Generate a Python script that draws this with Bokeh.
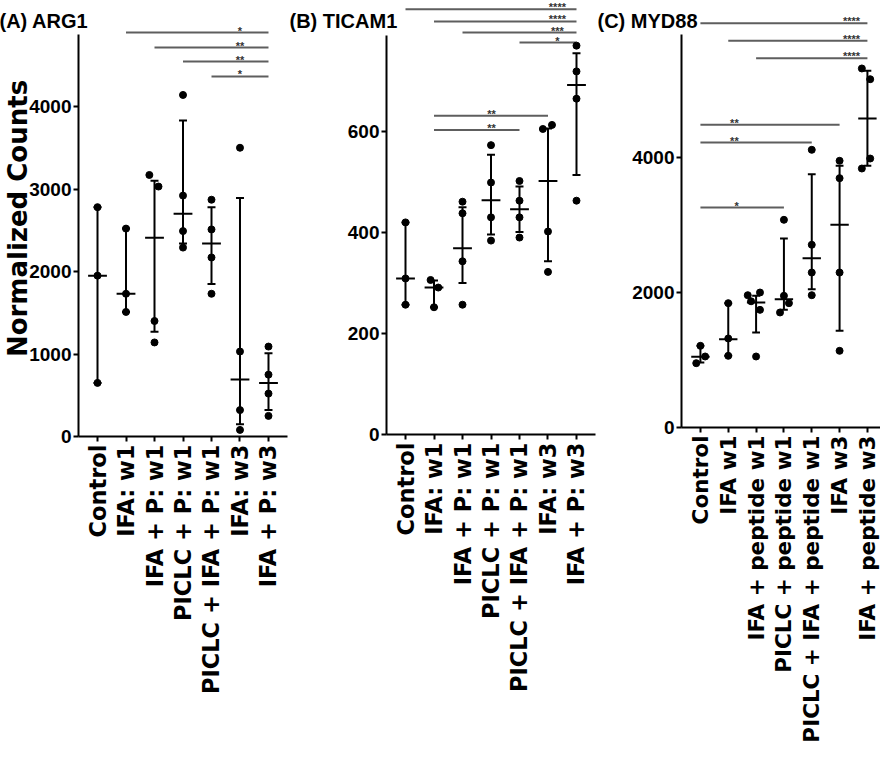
import math
from bokeh.plotting import figure
from bokeh.models import Range1d, FixedTicker, Title
from bokeh.layouts import row
from bokeh.core.properties import value
from bokeh.embed import file_html
from bokeh.resources import INLINE

SANS = "Liberation Sans"
WIDE = "DejaVu Sans"

# ---------------- Panel A : ARG1 ----------------
a_title = "(A) ARG1"
a_categories = ["Control", "IFA: w1", "IFA + P: w1", "PICLC + P: w1",
                "PICLC + IFA + P: w1", "IFA: w3", "IFA + P: w3"]
a_points = [[2780, 1950, 650], [2520, 1730, 1510], [3170, 3030, 1400, 1140],
            [4140, 2920, 2490, 2290], [2870, 2510, 2170, 1730],
            [3500, 1030, 320, 80], [1090, 750, 520, 250]]
a_jitter = [[0, 0, 0], [0, 0, 0], [-0.18, 0.14, 0, 0], [0, 0, 0, 0],
            [0, 0, 0, 0], [0, 0, 0, 0], [0, 0, 0, 0]]
a_mean = [1950, 1730, 2410, 2700, 2340, 690, 650]
a_err_lo = [650, 1510, 1270, 2340, 1850, 150, 320]
a_err_hi = [2780, 2520, 3100, 3830, 2780, 2890, 1010]
a_yticks = [0, 1000, 2000, 3000, 4000]
a_sig_start = [1, 2, 3, 4]
a_sig_end = [6, 6, 6, 6]
a_sig_y = [4897, 4715, 4545, 4364]
a_sig_text = ["*", "**", "**", "*"]
a_sig_label_x = [5.0, 5.0, 5.0, 5.0]

# ---------------- Panel B : TICAM1 ----------------
b_title = "(B) TICAM1"
b_categories = ["Control", "IFA: w1", "IFA + P: w1", "PICLC + P: w1",
                "PICLC + IFA + P: w1", "IFA: w3", "IFA + P: w3"]
b_points = [[420, 309, 257], [306, 291, 252], [461, 438, 343, 257],
            [573, 499, 430, 384], [502, 463, 430, 390],
            [613, 605, 402, 322], [770, 719, 665, 463]]
b_jitter = [[0, 0, 0], [-0.12, 0.15, 0], [0, 0, 0, 0], [0, 0, 0, 0],
            [0, 0, 0, 0], [0.14, -0.18, 0, 0], [0, 0, 0, 0]]
b_mean = [309, 291, 369, 464, 446, 502, 692]
b_err_lo = [257, 252, 300, 396, 401, 343, 514]
b_err_hi = [420, 305, 450, 554, 491, 606, 755]
b_yticks = [0, 200, 400, 600]
b_sig_start = [0, 1, 2, 4, 1, 1]
b_sig_end = [6, 6, 6, 6, 5, 4]
b_sig_y = [842, 818, 796, 776, 631, 603]
b_sig_text = ["****", "****", "***", "*", "**", "**"]
b_sig_label_x = [5.33, 5.33, 5.33, 5.33, 3.02, 3.02]

# ---------------- Panel C : MYD88 ----------------
c_title = "(C) MYD88"
c_categories = ["Control", "IFA w1", "IFA + peptide w1", "PICLC + peptide w1",
                "PICLC + IFA + peptide w1", "IFA w3", "IFA + peptide w3"]
c_points = [[1210, 1052, 953], [1842, 1319, 1062], [2000, 1960, 1870, 1743, 1052],
            [3077, 1951, 1842, 1704], [4114, 2707, 2296, 1960],
            [3951, 3694, 2296, 1136], [5319, 5160, 3985, 3837]]
c_jitter = [[0, 0.17, -0.15], [0, 0, 0], [0.14, -0.3, -0.18, 0.14, 0],
            [0, 0, 0.18, -0.14], [0, 0, 0, 0], [0, 0, 0, 0],
            [-0.2, 0.1, 0.1, -0.2]]
c_mean = [1047, 1309, 1852, 1901, 2508, 3003, 4578]
c_err_lo = [963, 1062, 1407, 1743, 2049, 1432, 3877]
c_err_hi = [1210, 1842, 1951, 2800, 3753, 3877, 5284]
c_yticks = [0, 2000, 4000]
c_sig_start = [0, 1, 2, 0, 0, 0]
c_sig_end = [6, 6, 6, 5, 4, 3]
c_sig_y = [5990, 5729, 5471, 4484, 4222, 3259]
c_sig_text = ["****", "****", "****", "**", "**", "*"]
c_sig_label_x = [5.43, 5.43, 5.43, 1.22, 1.22, 1.3]

y_label = "Normalized Counts"


def make_panel(title, cats, points, jitter, mean, lo, hi, yticks,
               s0, s1, sy, stext, slx, frame_w, frame_h, y_end, axis_top,
               x_lo, x_hi, border_left, border_right, xfont,
               title_offset, ylabel=None):
    p = figure(frame_width=frame_w, frame_height=frame_h,
               x_range=Range1d(x_lo, x_hi), y_range=Range1d(0, y_end),
               output_backend="svg", toolbar_location=None, title=None,
               min_border_left=border_left, min_border_right=border_right,
               min_border_top=0, min_border_bottom=0)
    p.outline_line_color = None
    p.xgrid.visible = False
    p.ygrid.visible = False
    p.background_fill_color = "white"

    for ax in (p.xaxis[0], p.yaxis[0]):
        ax.axis_line_width = 2
        ax.axis_line_color = "black"
        ax.major_tick_line_width = 2
        ax.major_tick_line_color = "black"
        ax.major_tick_out = 5
        ax.major_tick_in = 0
        ax.minor_tick_out = 0
        ax.minor_tick_in = 0
        ax.major_label_text_color = "black"
        ax.major_label_text_font_style = "bold"

    xa = p.xaxis[0]
    xa.ticker = FixedTicker(ticks=list(range(len(cats))))
    xa.major_label_overrides = {i: c for i, c in enumerate(cats)}
    xa.major_label_orientation = math.pi / 2
    xa.major_label_text_font = WIDE
    xa.major_label_text_font_size = xfont
    xa.major_label_standoff = 3

    ya = p.yaxis[0]
    ya.ticker = FixedTicker(ticks=yticks)
    ya.bounds = (0, axis_top)
    ya.major_label_text_font = SANS
    ya.major_label_text_font_size = "19px"
    ya.major_label_standoff = 2
    if ylabel:
        ya.axis_label = ylabel
        ya.axis_label_text_font = WIDE
        ya.axis_label_text_font_size = "26px"
        ya.axis_label_text_font_style = "bold"
        ya.axis_label_text_color = "black"
        ya.axis_label_standoff = -7

    # significance bars
    p.segment(x0=s0, y0=sy, x1=s1, y1=sy, line_color="#5e5e5e", line_width=2)
    p.text(x=slx, y=sy, text=stext, text_font=value(SANS),
           text_font_size="11px", text_font_style="bold",
           text_align="center", text_baseline="alphabetic",
           text_color="#333333", y_offset=-2)

    idx = list(range(len(cats)))
    # error bars
    p.segment(x0=idx, y0=lo, x1=idx, y1=hi, line_color="black", line_width=2)
    p.segment(x0=[i - 0.14 for i in idx], y0=lo, x1=[i + 0.14 for i in idx], y1=lo,
              line_color="black", line_width=2)
    p.segment(x0=[i - 0.14 for i in idx], y0=hi, x1=[i + 0.14 for i in idx], y1=hi,
              line_color="black", line_width=2)
    # mean
    p.segment(x0=[i - 0.33 for i in idx], y0=mean, x1=[i + 0.33 for i in idx], y1=mean,
              line_color="black", line_width=2)
    # points
    px, py = [], []
    for i, (vals, jit) in enumerate(zip(points, jitter)):
        for v, j in zip(vals, jit):
            px.append(i + j)
            py.append(v)
    p.scatter(x=px, y=py, size=7, color="black")

    p.add_layout(Title(text=title, align="left", offset=title_offset,
                       standoff=-62, vertical_align="bottom",
                       text_font=SANS, text_font_size="20px",
                       text_font_style="bold", text_color="black"), "above")
    return p


pA = make_panel(a_title, a_categories, a_points, a_jitter, a_mean, a_err_lo, a_err_hi,
                a_yticks, a_sig_start, a_sig_end, a_sig_y, a_sig_text, a_sig_label_x,
                frame_w=209, frame_h=436, y_end=5285, axis_top=4870,
                x_lo=-0.667, x_hi=6.667, border_left=76, border_right=2, xfont="22.5px",
                title_offset=-79, ylabel=y_label)
pB = make_panel(b_title, b_categories, b_points, b_jitter, b_mean, b_err_lo, b_err_hi,
                b_yticks, b_sig_start, b_sig_end, b_sig_y, b_sig_text, b_sig_label_x,
                frame_w=209, frame_h=434, y_end=859.4, axis_top=790,
                x_lo=-0.667, x_hi=6.667, border_left=97, border_right=2, xfont="22.5px",
                title_offset=-97)
pC = make_panel(c_title, c_categories, c_points, c_jitter, c_mean, c_err_lo, c_err_hi,
                c_yticks, c_sig_start, c_sig_end, c_sig_y, c_sig_text, c_sig_label_x,
                frame_w=199, frame_h=427, y_end=6326, axis_top=5827,
                x_lo=-0.68, x_hi=6.47, border_left=84, border_right=0, xfont="21.5px",
                title_offset=-84)

layout = row(pA, pB, pC)
open("out.html", "w").write(file_html(layout, INLINE))
